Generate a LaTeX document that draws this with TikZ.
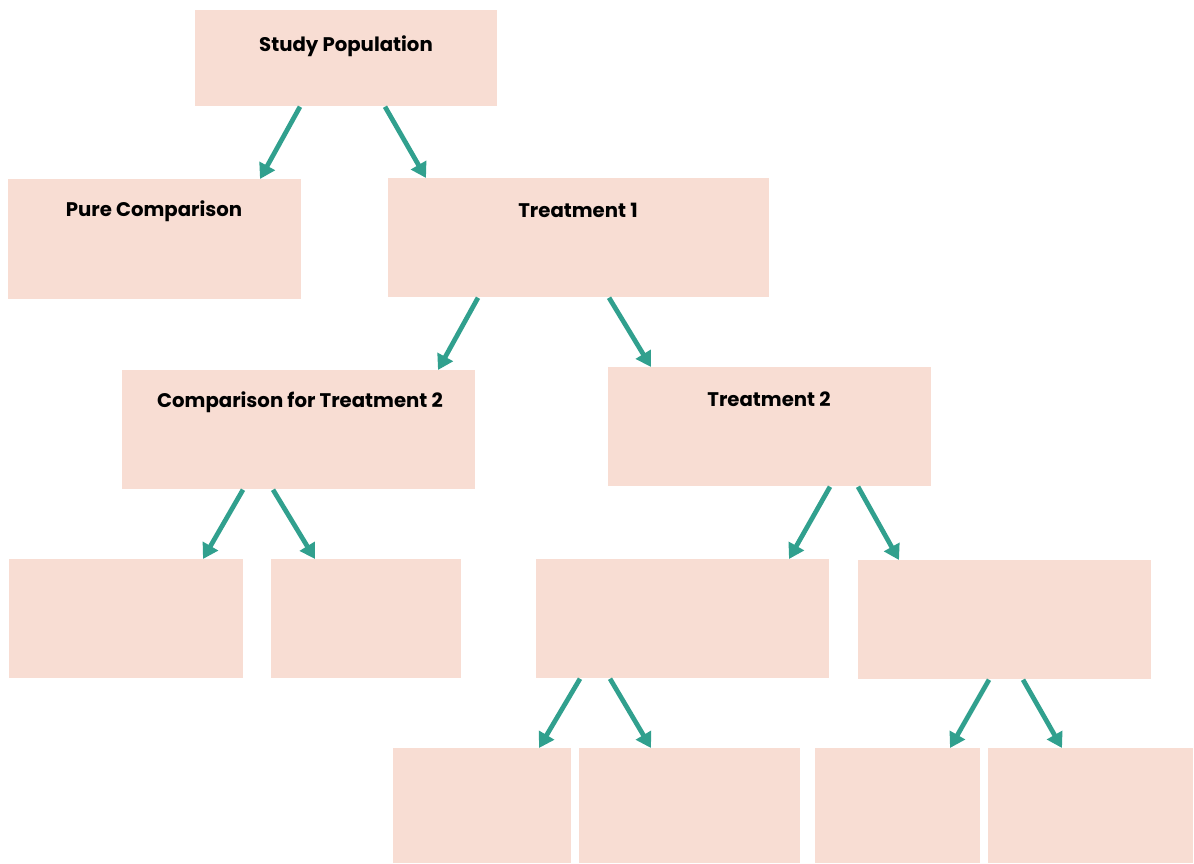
\documentclass[tikz,border=0pt]{standalone}
\usepackage{fontspec}
\setmainfont{Poppins}
\usetikzlibrary{arrows.meta}
\definecolor{boxfill}{HTML}{F8DDD3}
\definecolor{teal}{HTML}{31A08E}
\begin{document}
\begin{tikzpicture}[
  box/.style={fill=boxfill, draw=none, anchor=north west, inner sep=0pt},
  lbl/.style={font=\fontsize{11.2}{13}\selectfont\bfseries, text=black, inner sep=0pt},
  arr/.style={draw=teal, line width=2.7pt, -{Triangle[length=0.3cm,width=0.34cm]}}
]
\useasboundingbox (0,0) rectangle (23.88,-17.26);
\node[box, minimum width=6.04cm, minimum height=1.92cm] (sp) at (3.90,-0.20) {};
\node[box, minimum width=5.86cm, minimum height=2.40cm] (pc) at (0.16,-3.58) {};
\node[box, minimum width=7.62cm, minimum height=2.38cm] (t1) at (7.76,-3.56) {};
\node[box, minimum width=7.06cm, minimum height=2.38cm] (ct) at (2.44,-7.40) {};
\node[box, minimum width=6.46cm, minimum height=2.38cm] (t2) at (12.16,-7.34) {};
\node[box, minimum width=4.68cm, minimum height=2.38cm] (a) at (0.18,-11.18) {};
\node[box, minimum width=3.80cm, minimum height=2.38cm] (b) at (5.42,-11.18) {};
\node[box, minimum width=5.86cm, minimum height=2.38cm] (c) at (10.72,-11.18) {};
\node[box, minimum width=5.86cm, minimum height=2.38cm] (d) at (17.16,-11.20) {};
\node[box, minimum width=3.56cm, minimum height=2.30cm] (e) at (7.86,-14.96) {};
\node[box, minimum width=4.42cm, minimum height=2.30cm] (f) at (11.58,-14.96) {};
\node[box, minimum width=3.30cm, minimum height=2.30cm] (g) at (16.30,-14.96) {};
\node[box, minimum width=4.10cm, minimum height=2.30cm] (h) at (19.76,-14.96) {};

\node[lbl] (lsp) at (6.92,-0.92) {Study Population};
\node[lbl] (lpc) at (3.08,-4.22) {Pure Comparison};
\node[lbl] (lt1) at (11.56,-4.20) {Treatment 1};
\node[lbl] (lct) at (6.00,-8.04) {Comparison for Treatment 2};
\node[lbl] (lt2) at (15.38,-7.98) {Treatment 2};

\draw[arr] ([xshift=2.10cm]sp.south west) -- ([xshift=5.04cm]pc.north west);
\draw[arr] ([xshift=3.80cm]sp.south west) -- ([xshift=0.76cm]t1.north west);
\draw[arr] ([xshift=1.80cm]t1.south west) -- ([xshift=6.32cm]ct.north west);
\draw[arr] ([xshift=4.42cm]t1.south west) -- ([xshift=0.86cm]t2.north west);
\draw[arr] ([xshift=2.42cm]ct.south west) -- ([xshift=3.88cm]a.north west);
\draw[arr] ([xshift=3.02cm]ct.south west) -- ([xshift=0.88cm]b.north west);
\draw[arr] ([xshift=4.44cm]t2.south west) -- ([xshift=5.06cm]c.north west);
\draw[arr] ([xshift=5.00cm]t2.south west) -- ([xshift=0.82cm]d.north west);
\draw[arr] ([xshift=0.88cm]c.south west) -- ([xshift=2.92cm]e.north west);
\draw[arr] ([xshift=1.48cm]c.south west) -- ([xshift=1.44cm]f.north west);
\draw[arr] ([xshift=2.62cm]d.south west) -- ([xshift=2.70cm]g.north west);
\draw[arr] ([xshift=3.30cm]d.south west) -- ([xshift=1.48cm]h.north west);
\end{tikzpicture}
\end{document}
